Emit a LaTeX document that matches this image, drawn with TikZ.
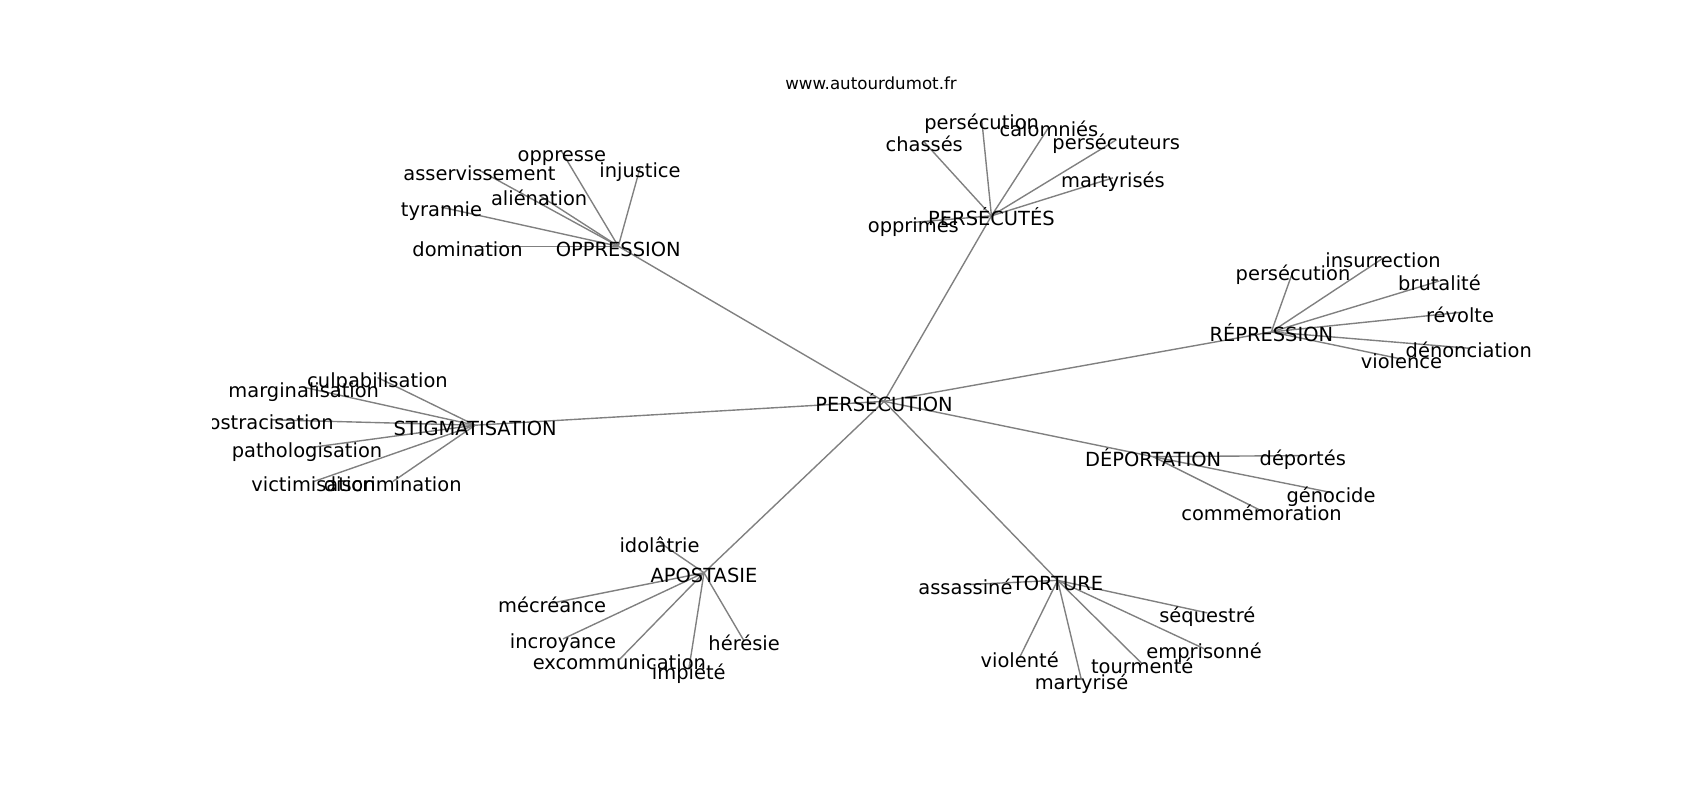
\documentclass[tikz,border=0pt]{standalone}
\usepackage{fontspec}
\setmainfont{DejaVu Sans}
\usetikzlibrary{backgrounds}
\begin{document}
\begin{tikzpicture}[x=0.781pt,y=-0.781pt,
  lbl/.style={inner sep=0pt,text height=1.65em,text depth=0.24em,font=\fontsize{14}{16}\selectfont,text=black},
  edge/.style={draw=gray,line width=1pt}]
\useasboundingbox (0,0) rectangle (1567.2,737.5);
\node[inner sep=0pt,font=\fontsize{12}{14}\selectfont] (title) at (803,76.8) {www.autourdumot.fr};
\begin{scope}
\clip (195.9,88.5) rectangle (1410.7,656.5);
% centres
\node[lbl] (c) at (815,370) {PERSÉCUTION};
\node[lbl] (opp) at (570,227) {OPPRESSION};
\node[lbl] (pes) at (914,199) {PERSÉCUTÉS};
\node[lbl] (rep) at (1172,306) {RÉPRESSION};
\node[lbl] (sti) at (438,392) {STIGMATISATION};
\node[lbl] (dep) at (1063,421) {DÉPORTATION};
\node[lbl] (apo) at (649,528) {APOSTASIE};
\node[lbl] (tor) at (975,535) {TORTURE};
% OPPRESSION
\node[lbl] (o1) at (518,140) {oppresse};
\node[lbl] (o2) at (442,157) {asservissement};
\node[lbl] (o3) at (590,155) {injustice};
\node[lbl] (o4) at (497,180) {aliénation};
\node[lbl] (o5) at (407,191) {tyrannie};
\node[lbl] (o6) at (431,227) {domination};
% PERSÉCUTÉS
\node[lbl] (p1) at (905,110) {persécution};
\node[lbl] (p2) at (967,117) {calomniés};
\node[lbl] (p3) at (852,131) {chassés};
\node[lbl] (p4) at (1029,129) {persécuteurs};
\node[lbl] (p5) at (1026,164) {martyrisés};
\node[lbl] (p6) at (842,205) {opprimés};
% RÉPRESSION
\node[lbl] (r1) at (1192,250) {persécution};
\node[lbl] (r2) at (1275,238) {insurrection};
\node[lbl] (r3) at (1327,259) {brutalité};
\node[lbl] (r4) at (1346,288) {révolte};
\node[lbl] (r5) at (1354,321) {dénonciation};
\node[lbl] (r6) at (1292,331) {violence};
% STIGMATISATION
\node[lbl] (s1) at (348,348) {culpabilisation};
\node[lbl] (s2) at (280,357) {marginalisation};
\node[lbl] (s3) at (250,387) {ostracisation};
\node[lbl] (s4) at (283,413) {pathologisation};
\node[lbl] (s5) at (289,444) {victimisation};
\node[lbl] (s6) at (362,444) {discrimination};
% DÉPORTATION
\node[lbl] (d1) at (1201,420) {déportés};
\node[lbl] (d2) at (1227,454) {génocide};
\node[lbl] (d3) at (1163,471) {commémoration};
% APOSTASIE
\node[lbl] (a1) at (608,500) {idolâtrie};
\node[lbl] (a2) at (509,556) {mécréance};
\node[lbl] (a3) at (519,589) {incroyance};
\node[lbl] (a4) at (571,608) {excommunication};
\node[lbl] (a5) at (635,617) {impiété};
\node[lbl] (a6) at (686,591) {hérésie};
% TORTURE
\node[lbl] (t1) at (890,539) {assassiné};
\node[lbl] (t2) at (1113,565) {séquestré};
\node[lbl] (t3) at (1110,598) {emprisonné};
\node[lbl] (t4) at (1053,612) {tourmenté};
\node[lbl] (t5) at (940,606) {violenté};
\node[lbl] (t6) at (997,627) {martyrisé};
\begin{scope}[on background layer]
\foreach \h in {opp,pes,rep,sti,dep,apo,tor} \draw[edge] (c.center) -- (\h.center);
\foreach \l in {o1,o2,o3,o4,o5,o6} \draw[edge] (opp.center) -- (\l.center);
\foreach \l in {p1,p2,p3,p4,p5,p6} \draw[edge] (pes.center) -- (\l.center);
\foreach \l in {r1,r2,r3,r4,r5,r6} \draw[edge] (rep.center) -- (\l.center);
\foreach \l in {s1,s2,s3,s4,s5,s6} \draw[edge] (sti.center) -- (\l.center);
\foreach \l in {d1,d2,d3} \draw[edge] (dep.center) -- (\l.center);
\foreach \l in {a1,a2,a3,a4,a5,a6} \draw[edge] (apo.center) -- (\l.center);
\foreach \l in {t1,t2,t3,t4,t5,t6} \draw[edge] (tor.center) -- (\l.center);
\end{scope}
\end{scope}
\end{tikzpicture}
\end{document}
